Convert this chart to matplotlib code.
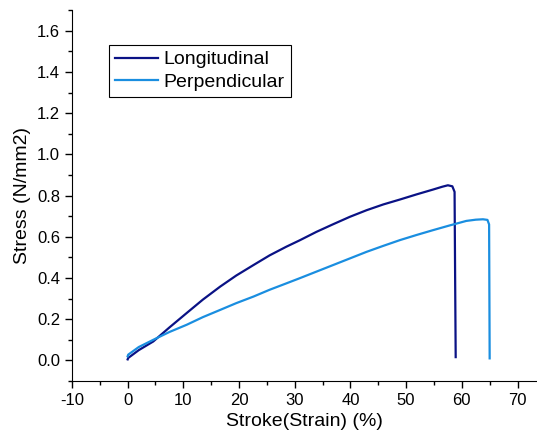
import matplotlib
matplotlib.use("Agg")
import matplotlib.pyplot as plt
from matplotlib.ticker import MultipleLocator

# values
long_strain = [0.0, 0.1, 2.0, 4.6, 7.5, 10.6, 13.5, 16.6, 19.5, 22.6, 25.5, 28.5, 30.9,
               33.9, 36.9, 39.9, 42.9, 45.9, 48.9, 51.9, 54.8, 56.5, 57.5, 58.3, 58.7,
               58.8, 58.9]
long_stress = [0.005, 0.012, 0.05, 0.092, 0.16, 0.23, 0.295, 0.358, 0.412, 0.463, 0.51,
               0.552, 0.583, 0.624, 0.661, 0.697, 0.729, 0.757, 0.781, 0.806, 0.829,
               0.843, 0.85, 0.845, 0.818, 0.4, 0.016]

perp_strain = [0.0, 0.1, 2.0, 4.6, 7.5, 10.6, 13.5, 16.6, 19.5, 22.6, 25.5, 28.5, 30.9,
               33.9, 36.9, 39.9, 42.9, 45.9, 48.9, 51.9, 54.8, 57.8, 60.8, 62.5, 63.8,
               64.6, 64.9, 65.0]
perp_stress = [0.02, 0.028, 0.065, 0.1, 0.138, 0.173, 0.21, 0.245, 0.278, 0.31, 0.343,
               0.374, 0.399, 0.431, 0.463, 0.495, 0.527, 0.556, 0.584, 0.609, 0.632,
               0.655, 0.677, 0.683, 0.685, 0.682, 0.66, 0.01]

plt.rcParams['font.family'] = ['Liberation Sans', 'DejaVu Sans']
plt.rcParams['axes.unicode_minus'] = False

fig = plt.figure(figsize=(5.37, 4.41), dpi=100)
ax = fig.add_axes([0.134, 0.136, 0.866, 0.841])

ax.plot(long_strain, long_stress, color='#0a1285', lw=1.6, label='Longitudinal')
ax.plot(perp_strain, perp_stress, color='#1a8ee0', lw=1.6, label='Perpendicular')

ax.set_xlim(-10, 73.5)
ax.set_ylim(-0.1, 1.7)
ax.xaxis.set_major_locator(MultipleLocator(10))
ax.xaxis.set_minor_locator(MultipleLocator(5))
ax.yaxis.set_major_locator(MultipleLocator(0.2))
ax.yaxis.set_minor_locator(MultipleLocator(0.1))
ax.set_yticks([0.0, 0.2, 0.4, 0.6, 0.8, 1.0, 1.2, 1.4, 1.6])
ax.yaxis.set_major_formatter(plt.FormatStrFormatter('%.1f'))

ax.spines['top'].set_visible(False)
ax.spines['right'].set_visible(False)
ax.tick_params(which='major', direction='out', length=5, width=1, labelsize=12)
ax.tick_params(which='minor', direction='out', length=3, width=1)

ax.set_xlabel('Stroke(Strain) (%)', fontsize=14, labelpad=4)
ax.set_ylabel('Stress (N/mm2)', fontsize=14, labelpad=4)

leg = ax.legend(loc='upper left', bbox_to_anchor=(0.08, 0.906), borderaxespad=0,
                fancybox=False, edgecolor='black', framealpha=1, fontsize=14,
                handlelength=2.2, handletextpad=0.3, labelspacing=0.25, borderpad=0.3)
leg.get_frame().set_linewidth(0.8)

fig.savefig('out.png', dpi=100)
